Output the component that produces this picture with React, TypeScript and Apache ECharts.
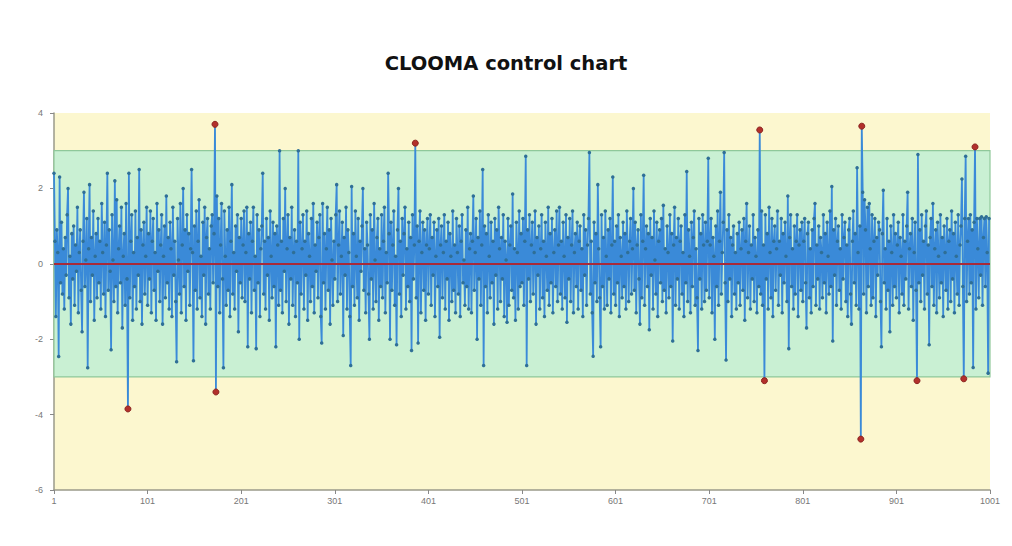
import React, { useEffect, useRef } from "react";
import * as echarts from "echarts";

const TITLE = "CLOOMA control chart";
const Y_TICKS = [-6, -4, -2, 0, 2, 4];
const LIMIT_UPPER = 3;
const LIMIT_LOWER = -3;
const CENTER = 0;

const seg1 = [
  2.4, 0.6, -1.4, 0.9, 0.3, -2.46, 2.3, -0.5, 1.1, -0.8,
  0.4, -1.2, 0.7, -0.3, 1.3, 2.0, -0.9, 0.2, -1.6, 0.8,
  -0.4, 1.0, -1.1, 0.5, -0.2, 1.5, -1.3, 0.3, 0.9, -0.7,
  -1.8, 0.6, 1.9, -0.6, 0.1, 1.2, -2.76, 0.4, 2.1, -1.0,
  0.7, -0.3, 1.4, -1.5, 0.2, 0.8, -0.9, 1.2, -0.5, 0.6,
  -1.2, 1.6, 0.3, -0.8, 1.1, -1.4, 0.5, 2.4, -0.7, 0.9,
  -0.2, -2.28, 1.3, 0.1, -1.0, 2.2, -0.6, 1.7, -1.3, 0.4,
  1.0, -0.5, 1.5, -1.7, 0.2, 0.8, -1.1, 1.6, -0.4, -3.85,
  2.4, -0.9, 0.6, 1.3, -1.5, 0.3, -0.6, 1.4, -1.2, 0.7,
  -0.3, 2.5, -1.0, 0.9, -1.6, 0.5, 1.1, -0.8, 0.2, 1.5,
];
const seg2 = [
  -1.1, 0.8, -0.4, 1.4, -1.3, 0.6, 1.2, -0.7, 0.3, -1.5,
  1.6, -0.2, 0.9, -1.0, 0.5, 1.3, -1.6, 0.2, 1.0, -0.9,
  1.8, -0.5, 0.7, -1.2, 1.1, 0.4, -1.4, 1.5, -0.3, 0.6,
  -1.0, -2.6, 1.2, 0.1, -0.8, 1.6, -1.3, 0.5, 2.0, -0.6,
  0.9, -1.5, 1.3, -0.2, 0.8, -1.1, 0.4, 2.5, 0.3, -2.57,
  1.0, -0.7, 1.4, -1.2, 0.6, 1.7, -0.9, 0.2, -1.4, 1.1,
  -0.3, 1.5, -1.6, 0.7, 1.2, -0.8, 0.4, -1.2, 1.0, 1.3,
  -0.5, 0.8, 3.7, -3.4, 1.8, -0.6, 1.2, -1.3, 0.5, 1.6,
  -0.4, -2.76, 1.4, 0.2, -1.1, 0.9, -0.7, 1.5, -1.4, 0.6,
  2.1, -0.8, 0.3, -1.2, 1.0, -0.2, 1.3, -1.8, 0.7, -0.5,
];
const seg3 = [
  1.2, -0.9, 0.5, 1.4, -1.0, 0.3, 1.5, -2.2, 0.8, -0.4,
  1.1, -1.3, 0.6, 1.5, -0.7, 0.2, -2.25, 1.3, -0.5, 0.9,
  -1.4, 0.4, 1.0, 2.4, -0.8, 0.6, -1.2, 1.2, -0.3, 0.7,
  -1.5, 1.4, 0.2, -0.9, 1.1, -0.6, 0.8, -2.2, 1.0, 0.5,
  -1.1, 3.0, -0.7, 0.6, -1.3, 1.2, -0.2, 2.0, -1.0, 0.4,
  1.3, -1.6, 0.7, -0.4, 1.5, -1.1, 0.3, 0.9, -1.4, 0.6,
  -0.5, 3.0, -2.0, 1.1, -0.8, 0.4, 1.3, -1.2, 0.6, -0.3,
  1.4, -1.5, 0.8, 0.2, -1.0, 1.2, -0.6, 1.6, -1.3, 0.5,
  -0.2, 1.1, -0.9, 0.7, 1.3, -1.4, -2.1, 1.6, -0.5, 0.8,
  -1.2, 0.4, 1.5, -0.7, 0.9, -1.6, 1.2, 0.1, -1.1, 0.6,
];
const seg4 = [
  -0.4, 1.3, 2.1, -1.0, 0.5, 1.4, -0.8, 0.2, 1.1, -1.9,
  0.7, -0.3, 1.5, -1.2, 0.9, 0.3, -1.4, -2.7, 2.05, -0.6,
  0.8, -1.1, 1.4, 0.2, -0.9, 1.2, -1.5, 0.6, -0.2, 1.0,
  2.0, -0.7, 0.4, -1.3, 1.1, 0.5, -0.8, -2.0, 1.3, -0.4,
  0.9, -1.2, 1.6, 0.1, -1.0, 0.7, 1.2, -1.5, 0.4, -0.6,
  1.3, -0.9, 0.6, 1.5, -1.3, 0.3, -0.5, 2.4, 0.8, -2.0,
  1.1, -0.7, 0.5, 1.4, -1.1, 0.2, -2.15, 0.9, 2.0, -0.8,
  0.6, -1.4, 1.2, -0.3, 0.8, 1.5, -1.2, 0.4, -0.6, 1.1,
  -1.0, 0.7, -2.3, 1.3, -0.4, 0.5, 3.2, -0.9, 1.0, -2.1,
  0.6, 1.4, -1.3, 0.3, 1.1, -0.7, 0.9, -1.5, 0.5, 1.2,
];
const seg5 = [
  -0.8, 0.4, 1.3, -1.1, 0.7, -0.3, 1.1, -1.4, 0.2, 0.9,
  -0.6, 1.2, -1.95, 0.5, 1.0, -0.9, 0.3, 1.3, -1.2, 0.6,
  -0.4, 1.1, -1.5, 0.8, 0.2, -1.0, 1.4, -0.7, 0.5, -1.3,
  1.2, 0.3, -0.8, 1.0, -1.4, 0.6, 1.3, -0.5, 0.1, -1.1,
  0.9, -0.6, 1.5, -1.2, 0.4, 0.8, -1.3, 0.6, 1.8, -0.7,
  0.3, 1.2, -2.0, 0.7, -0.4, 1.4, -1.1, 0.5, 2.5, -2.7,
  1.0, -0.6, 0.8, -1.3, 1.3, 0.2, -0.9, 1.1, -0.5, 0.6,
  -1.6, 1.2, -0.3, 0.9, -1.2, 1.5, 0.4, -1.0, 0.7, -0.4,
  1.3, -1.4, 0.6, 0.1, -1.55, 1.2, -1.1, 0.5, 1.0, -0.7,
  1.85, -0.9, 0.4, -1.5, 1.1, 0.3, -1.2, 1.4, -0.6, 0.8,
];
const seg6 = [
  -0.5, 1.2, -1.1, 0.6, 2.85, -2.7, 0.9, -0.4, 1.3, -1.0,
  0.5, 1.1, -0.8, 0.3, 1.4, -1.6, 0.7, -0.3, 1.0, -1.2,
  0.4, 1.3, -0.9, 0.6, -1.4, 1.1, 0.2, -0.7, 1.5, -1.1,
  0.8, -0.5, 1.2, -1.3, 0.3, 0.9, -0.6, 1.4, -1.0, 0.5,
  1.5, -0.8, 0.6, -1.2, 1.1, 0.2, -0.9, 1.3, -1.55, 0.7,
  -0.4, 1.2, -1.0, 0.5, 1.4, -1.3, 0.3, 0.8, -0.6, 1.1,
  -1.2, 0.6, 1.0, -0.7, 0.4, -1.4, 1.3, -0.3, 0.9, -1.1,
  0.5, 1.2, 2.95, -0.8, 0.6, -1.3, -2.45, 1.1, -0.5, 0.8,
  -1.0, 2.1, 0.4, -0.9, -2.2, 1.3, -0.6, 0.7, -1.2, 1.4,
  0.2, -1.1, 0.9, -0.4, 1.2, -1.3, 0.5, 2.3, -0.8, 0.6,
];
const seg7 = [
  -1.1, 1.0, -0.5, 1.3, -1.4, 0.7, 0.2, -0.9, 1.1, -0.6,
  0.8, -1.2, 1.4, 0.3, -1.0, 0.6, 1.2, -0.8, 0.4, 2.0,
  -0.7, 1.1, -1.3, 0.5, 0.9, -0.4, -1.6, 1.3, -0.9, 0.6,
  2.35, -1.1, 0.4, 1.0, -0.6, 0.8, -1.75, 1.2, -0.3, 0.7,
  -1.2, 1.4, 0.1, -0.8, 1.1, -1.4, 0.6, 0.9, -0.5, 1.2,
  -1.0, 1.55, -0.7, 0.4, -1.3, 1.0, 0.3, -0.9, 1.3, -0.6,
  0.8, -2.05, 0.5, 1.5, -1.1, 0.7, -0.4, 1.2, -1.2, 0.6,
  1.0, -0.8, 0.3, -1.4, 1.3, -0.5, 2.45, -1.0, 0.9, 0.2,
  -1.3, 1.1, -0.6, 0.7, 1.4, -1.1, 0.4, -0.9, -2.3, 1.2,
  -0.4, 0.8, -1.2, 1.3, 0.5, -1.0, 1.1, -0.7, 0.6, 2.8,
];
const seg8 = [
  -0.9, 0.5, 1.2, -1.3, 0.7, 0.2, -2.0, 1.0, -0.6, 1.4,
  -1.1, 0.6, 1.9, -0.8, 0.3, 1.1, 2.95, -0.5, -2.55, 0.9,
  -1.0, 1.3, -0.4, 0.7, -1.4, 0.5, 1.0, -0.8, 0.3, -1.2,
  0.8, -0.5, 1.1, -1.1, 0.4, 0.9, -0.7, 1.2, -1.5, 0.6,
  1.6, -0.9, 0.3, 1.0, -1.2, 0.5, -0.4, 1.3, -1.0, 0.7,
  0.2, -1.3, 0.9, -0.6, 3.55, -0.8, 1.4, -1.1, 0.5, -3.1,
  1.3, -0.4, 0.8, -1.2, 1.5, 0.3, -0.9, 1.2, -1.4, 0.6,
  1.0, -0.7, 0.4, 1.4, -1.1, 0.6, -0.3, 1.2, -1.3, 0.8,
  -0.5, 1.1, 0.2, -1.0, 1.8, -2.25, 0.7, 1.3, -0.6, 0.4,
  -1.2, 1.0, -0.8, 0.6, 1.3, -1.4, 0.5, 0.9, -0.7, 1.1,
];
const seg9 = [
  -1.0, 0.6, 1.2, -0.5, -1.7, 0.8, 1.1, -0.9, 0.4, -1.3,
  0.9, -0.6, 1.2, 1.6, -1.1, 0.5, -0.4, 1.0, -1.2, 0.7,
  0.3, -0.9, 1.3, -0.5, 0.8, -1.3, 1.1, 0.2, -0.8, 1.4,
  -0.6, 2.05, -2.05, 0.9, -0.3, 1.2, -1.1, 0.6, 1.0, -0.7,
  0.4, -1.2, 1.3, -0.4, 0.7, 1.1, -1.0, 0.5, -1.4, 0.9,
  1.2, -0.8, -1.6, 0.6, 1.4, -0.5, 0.8, -1.1, 2.55, 0.3,
  -1.2, 1.0, -4.65, 3.65, 1.9, -0.8, 1.7, 0.9, -1.3, 1.5,
  -0.6, 1.6, 0.4, -1.1, 1.3, -0.9, 0.6, 1.2, -1.4, 0.7,
  -0.3, 1.1, 0.9, -1.0, -2.2, 0.8, 1.95, -0.5, 0.4, -1.2,
  1.2, -0.7, 0.6, -1.8, 1.0, 0.3, -1.1, 1.3, -0.6, 0.8,
];
const seg10 = [
  -0.9, 0.5, 1.1, -1.3, 0.7, 0.2, -0.8, 1.3, -1.1, 0.6,
  -0.4, 1.0, 1.9, -1.2, 0.4, 0.8, -0.6, 1.2, -1.5, 0.3,
  1.1, -0.7, -3.1, 2.9, -0.5, 0.9, -1.0, 1.3, -0.3, 0.6,
  -1.2, 1.0, 1.4, -0.8, 0.5, -2.15, 0.7, 1.2, -0.6, 1.6,
  -1.1, 0.4, 0.9, -1.3, 1.1, 0.2, -0.9, 1.3, -0.5, 0.7,
  -1.4, 1.0, 0.3, -0.7, 1.2, -1.2, 0.6, 0.9, -1.0, 1.4,
  -0.4, 0.8, -1.3, 1.1, 0.2, -0.8, 1.3, -1.1, 0.5, 1.0,
  2.25, -0.6, -3.05, 1.2, 2.85, -1.0, 0.6, 1.2, -0.8, 1.3,
  -0.5, 0.9, -2.75, 1.1, 3.1, -1.2, 1.2, 0.4, -0.9, 1.2,
  -0.3, 1.25, -1.1, 0.7, 1.2, -0.6, 1.25, 0.3, -2.9, 1.2,
];

const values = [...seg1, ...seg2, ...seg3, ...seg4, ...seg5, ...seg6, ...seg7, ...seg8, ...seg9, ...seg10];

export default function App() {
  const ref = useRef<HTMLDivElement>(null);
  useEffect(() => {
    if (!ref.current) return;
    const chart = echarts.init(ref.current, null, { renderer: "svg" });
    const points = values.map((v, i) =>
      v > LIMIT_UPPER || v < LIMIT_LOWER
        ? { value: [i, v], symbolSize: 6, itemStyle: { color: "#b3302b", borderColor: "#8a2420", borderWidth: 1 } }
        : [i, v]
    );
    chart.setOption({
      animation: false,
      backgroundColor: "#ffffff",
      title: {
        text: TITLE,
        left: "center",
        top: 48,
        textStyle: { fontFamily: "DejaVu Sans", fontWeight: "bold", fontSize: 19.5, color: "#111111" },
      },
      grid: {
        left: 54,
        right: 22,
        top: 113,
        bottom: 56,
        show: true,
        backgroundColor: "#fcf7cf",
        borderWidth: 0,
      },
      xAxis: {
        type: "value",
        min: 0,
        max: 1000,
        interval: 100,
        axisLine: { show: true, onZero: false, lineStyle: { color: "#9a9a8a", width: 1.5 } },
        axisTick: { show: true, length: 4, lineStyle: { color: "#888" } },
        axisLabel: { color: "#777", fontSize: 9, margin: 6, formatter: (v: number) => String(v + 1) },
        splitLine: { show: false },
      },
      yAxis: {
        type: "value",
        min: Y_TICKS[0],
        max: Y_TICKS[Y_TICKS.length - 1],
        interval: 2,
        axisLine: { show: true, onZero: false, lineStyle: { color: "#9a9a8a", width: 1.5 } },
        axisTick: { show: true, length: 4, lineStyle: { color: "#888" } },
        axisLabel: { color: "#777", fontSize: 9, margin: 11 },
        splitLine: { show: false },
      },
      series: [
        {
          type: "line",
          data: [],
          z: 1,
          silent: true,
          markArea: {
            silent: true,
            itemStyle: { color: "#c9f0d3", borderColor: "#8fc89a", borderWidth: 1.2 },
            data: [[{ yAxis: LIMIT_LOWER }, { yAxis: LIMIT_UPPER }]],
          },
        },
        {
          type: "line",
          data: points,
          z: 3,
          symbol: "circle",
          symbolSize: 3.5,
          showSymbol: true,
          lineStyle: { color: "#3a8ad8", width: 1.8 },
          itemStyle: { color: "#2f6f96" },
        },
        {
          type: "line",
          data: [],
          z: 5,
          silent: true,
          markLine: {
            silent: true,
            symbol: "none",
            label: { show: false },
            lineStyle: { color: "#a82a3a", width: 2, type: "solid" },
            data: [{ yAxis: CENTER }],
          },
        },
      ],
    });
    return () => chart.dispose();
  }, []);
  return <div ref={ref} style={{ width: 1012, height: 546, position: "absolute", left: 0, top: 0 }} />;
}
